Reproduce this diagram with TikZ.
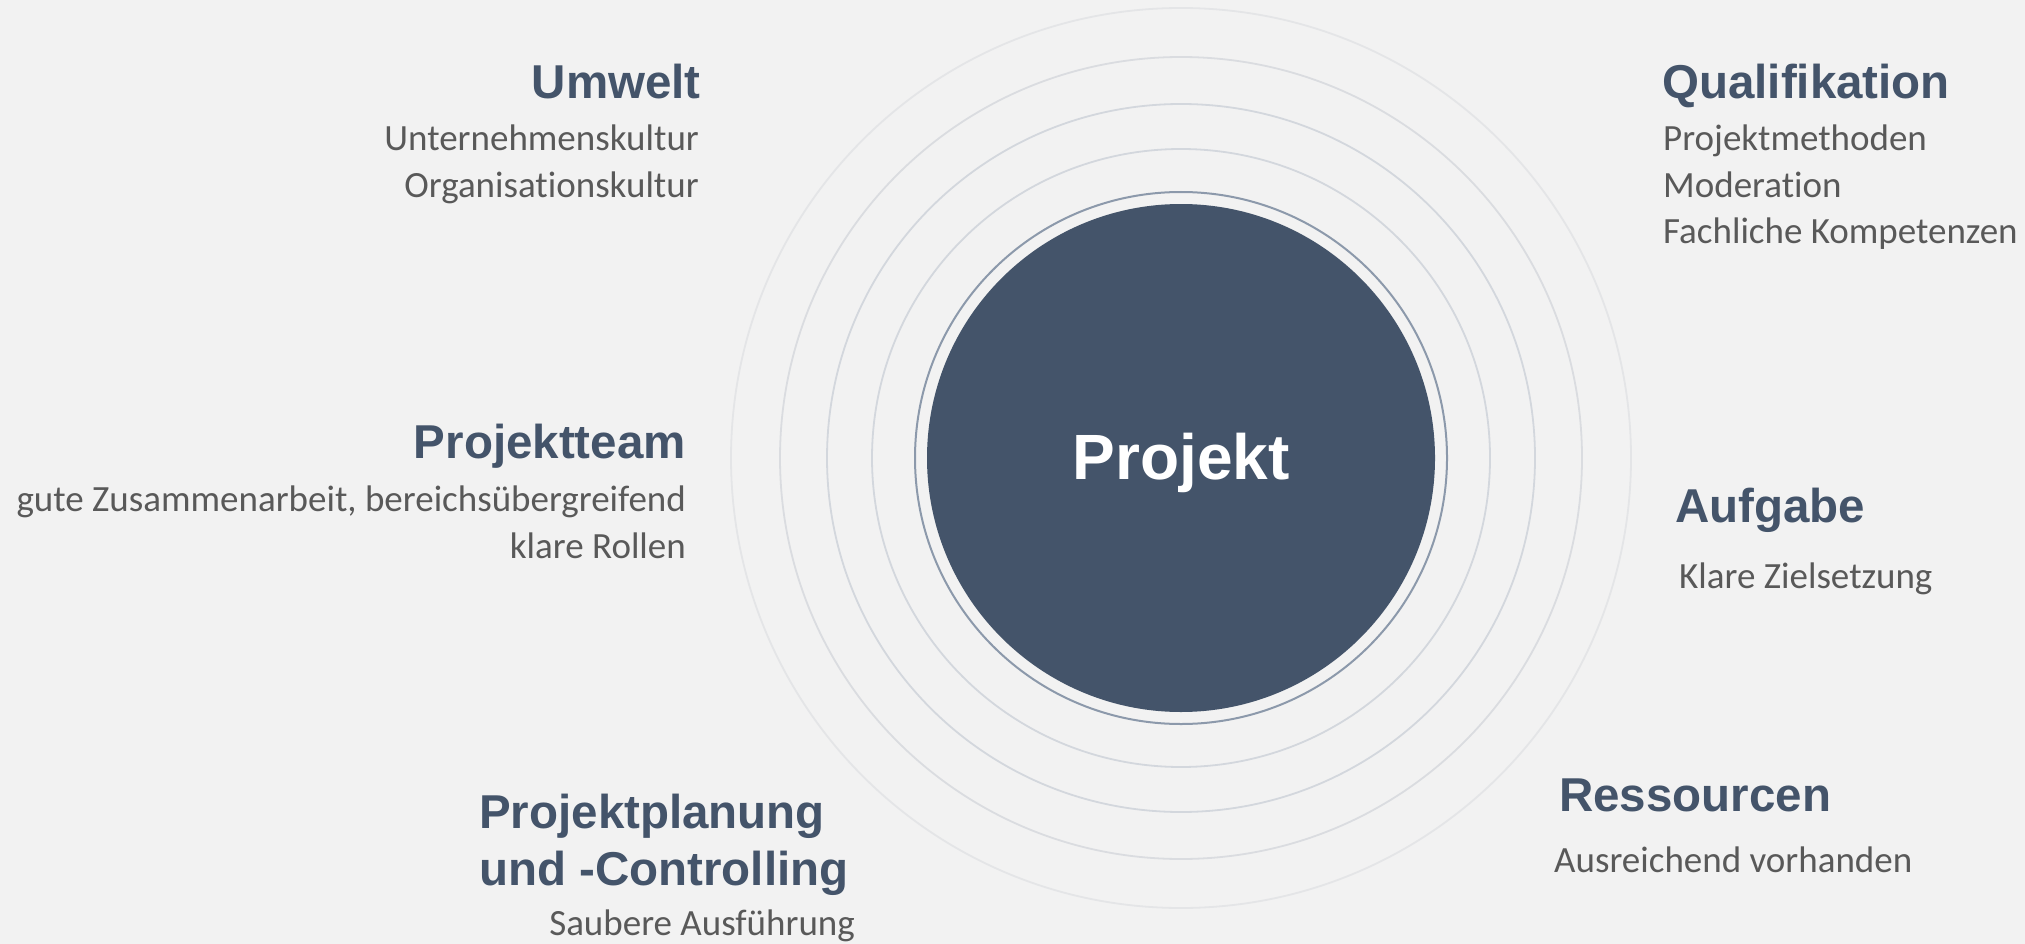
\documentclass[tikz,border=0pt]{standalone}
\usepackage{fontspec}
\setmainfont{Carlito}[Ligatures={NoCommon}]
\newfontfamily\arialfont{Liberation Sans}
\definecolor{bg}{HTML}{F2F2F2}
\definecolor{navy}{HTML}{44546A}
\definecolor{bodygray}{HTML}{595959}
\definecolor{ringblue}{HTML}{8C99AB}
\definecolor{ringA}{HTML}{D3D7DD}
\definecolor{ringB}{HTML}{DADCE0}
\definecolor{ringC}{HTML}{E4E5E7}
\begin{document}
\begin{tikzpicture}[x=1pt,y=-1pt,
  title/.style={font=\arialfont\bfseries\fontsize{47.5}{57}\selectfont, text=navy, inner sep=0pt},
  body/.style={font=\fontsize{37}{45}\selectfont, text=bodygray, inner sep=0pt},
  ringline/.style={line width=1.8pt}]
\fill[bg] (0,0) rectangle (2025,944);
\useasboundingbox (0,0) rectangle (2025,944);
\coordinate (c) at (1181,458);
\draw[ringline, ringC] (c) circle[radius=450pt];
\draw[ringline, ringB] (c) circle[radius=401pt];
\draw[ringline, ringA] (c) circle[radius=354pt];
\draw[ringline, ringA] (c) circle[radius=309pt];
\draw[line width=2pt, ringblue] (c) circle[radius=266pt];
\node[circle, fill=navy, minimum size=508pt, inner sep=0pt] (proj) at (c) {};
\node[font=\arialfont\bfseries\fontsize{64}{76}\selectfont, text=white, anchor=base, inner sep=0pt] (projt) at (1181,479) {Projekt};
% Umwelt
\node[title, anchor=base east] (umw) at (701,99) {Umwelt};
\node[body, anchor=base east] (umw1) at (699,151) {Unternehmenskultur};
\node[body, anchor=base east] (umw2) at (699,197) {Organisationskultur};
% Qualifikation
\node[title, anchor=base west] (qual) at (1662,99) {Qualifikation};
\node[body, anchor=base west] (qual1) at (1663,151) {Projektmethoden};
\node[body, anchor=base west] (qual2) at (1663,197) {Moderation};
\node[body, anchor=base west] (qual3) at (1663,243) {Fachliche Kompetenzen};
% Projektteam
\node[title, anchor=base east] (team) at (686,458) {Projektteam};
\node[body, anchor=base east] (team1) at (686,511) {gute Zusammenarbeit, bereichsübergreifend};
\node[body, anchor=base east] (team2) at (686,558) {klare Rollen};
% Aufgabe
\node[title, anchor=base west] (aufg) at (1675,522) {Aufgabe};
\node[body, anchor=base west] (aufg1) at (1679,588) {Klare Zielsetzung};
% Ressourcen
\node[title, anchor=base west] (ress) at (1559,811) {Ressourcen};
\node[body, anchor=base west] (ress1) at (1554,872) {Ausreichend vorhanden};
% Projektplanung
\node[title, anchor=base west] (plan) at (479,828) {Projektplanung};
\node[title, anchor=base west] (plan2) at (479,885) {und -Controlling};
\node[body, anchor=base east] (plan3) at (855,935) {Saubere Ausführung};
\end{tikzpicture}
\end{document}
